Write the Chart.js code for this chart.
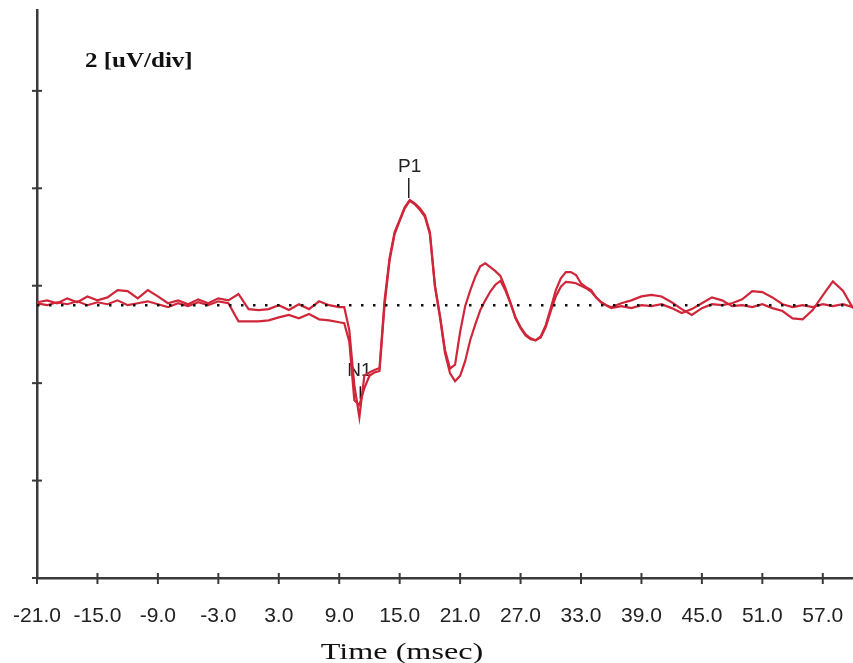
<!DOCTYPE html>
<html>
<head>
<meta charset="utf-8">
<script src="https://cdn.jsdelivr.net/npm/chart.js@4.4.1/dist/chart.umd.min.js"></script>
<style>
  html, body { margin: 0; padding: 0; background: #ffffff; }
  #wrap { width: 853px; height: 663px; position: relative; }
</style>
</head>
<body>
<div id="wrap"><canvas id="c" width="853" height="663"></canvas></div>
<script>
// ---- data (time in msec, amplitude in uV) ----
const times = [
  -21, -20, -19, -18, -17, -16, -15, -14, -13, -12, -11, -10, -9, -8, -7, -6, -5, -4, -3, -2, -1,
  0, 1, 2, 3, 4, 5, 6, 7, 8, 9,
  9.5, 10, 10.5, 11, 11.5, 12, 12.5, 13, 13.5, 14, 14.5, 15, 15.5, 16, 16.5, 17, 17.5, 18,
  18.5, 19, 19.5, 20, 20.5, 21, 21.5, 22, 22.5, 23, 23.5, 24, 24.5, 25, 25.5, 26, 26.5, 27, 27.5, 28,
  28.5, 29, 29.5, 30, 30.5, 31, 31.5, 32, 32.5, 33, 33.5, 34, 34.5, 35, 35.5,
  36, 37, 38, 39, 40, 41, 42, 43, 44, 45, 46, 47, 48, 49, 50, 51, 52, 53, 54, 55, 56, 57, 58, 59, 60
];
const traceA = [
  0.06, 0.10, 0.04, 0.14, 0.06, 0.18, 0.10, 0.16, 0.31, 0.29, 0.14, 0.31, 0.18, 0.04, 0.10, 0.02, 0.12, 0.04, 0.14, 0.10, 0.23,
  -0.08, -0.10, -0.08, 0.0, -0.10, 0.02, -0.08, 0.08, 0.0, -0.04,
  -0.04, -0.51, -1.64, -2.30, -1.44, -1.38, -1.33, -1.29, 0.10, 0.97, 1.50, 1.75, 2.01, 2.16, 2.09, 1.99, 1.85, 1.50,
  0.41, -0.21, -0.92, -1.30, -1.22, -0.55, -0.02, 0.30, 0.58, 0.80, 0.86, 0.78, 0.70, 0.60, 0.35, 0.05, -0.27, -0.47, -0.62, -0.70,
  -0.72, -0.64, -0.41, -0.06, 0.31, 0.55, 0.68, 0.68, 0.62, 0.45, 0.37, 0.31, 0.16, 0.06, 0.0,
  -0.04, 0.04, 0.10, 0.18, 0.21, 0.18, 0.06, -0.08, -0.20, -0.06, 0.02, 0.0, 0.04, 0.12, 0.29, 0.27, 0.16, 0.02, -0.04, 0.0, -0.04, 0.02, -0.02, 0.02, -0.04
];
const traceB = [
  0.04, 0.0, 0.06, 0.02, 0.08, 0.0, 0.06, 0.02, 0.10, 0.0, 0.04, 0.08, 0.02, -0.04, 0.04, -0.02, 0.06, 0.0, 0.08, 0.04, -0.33,
  -0.33, -0.33, -0.31, -0.25, -0.20, -0.27, -0.18, -0.29, -0.31, -0.35,
  -0.37, -0.75, -1.95, -2.05, -1.70, -1.45, -1.38, -1.35, 0.0, 0.92, 1.46, 1.73, 1.99, 2.14, 2.07, 1.96, 1.82, 1.46,
  0.38, -0.25, -0.98, -1.40, -1.56, -1.45, -1.15, -0.72, -0.40, -0.10, 0.10, 0.28, 0.42, 0.50, 0.30, 0.04, -0.25, -0.45, -0.60, -0.68,
  -0.72, -0.66, -0.45, -0.12, 0.18, 0.38, 0.48, 0.47, 0.45, 0.40, 0.35, 0.28, 0.16, 0.06, 0.0,
  -0.06, -0.02, -0.06, 0.0, -0.02, 0.02, -0.06, -0.16, -0.08, 0.04, 0.16, 0.10, -0.02, 0.0, -0.04, 0.02, -0.06, -0.12, -0.27, -0.29, -0.10, 0.20, 0.49, 0.30, -0.06
];
const baselineTimes = [-21, 60];
const baselineValues = [0, 0];
const xTickValues = [-21, -15, -9, -3, 3, 9, 15, 21, 27, 33, 39, 45, 51, 57];
const yTickValues = [-5.6, -3.6, -1.6, 0.4, 2.4, 4.4];
const peakLabels = ['P1', 'N1'];
const peakTimes = [16, 11];
const peakValues = [2.16, -2.30];
const scaleText = '2 [uV/div]';
const xTitle = 'Time (msec)';

// ---- helpers ----
const toPoints = (xs, ys) => xs.map((x, i) => ({ x: x, y: ys[i] }));
const RED = '#d0263a';
const AXIS = '#3a3a3a';
const SANS = "'Liberation Sans', Arial, sans-serif";

const decorPlugin = {
  id: 'decor',
  beforeDatasetsDraw(chart) {
    const ctx = chart.ctx, xs = chart.scales.x, ys = chart.scales.y;
    // N1 label (drawn under traces)
    const i = peakLabels.indexOf('N1');
    const px = xs.getPixelForValue(peakTimes[i]);
    const py = ys.getPixelForValue(peakValues[i]);
    ctx.save();
    ctx.fillStyle = '#222';
    ctx.font = '19px ' + SANS;
    ctx.textAlign = 'center';
    ctx.textBaseline = 'alphabetic';
    ctx.fillText(peakLabels[i], px, py - 41);
    ctx.strokeStyle = '#111';
    ctx.lineWidth = 1.5;
    ctx.beginPath();
    ctx.moveTo(px + 1, py - 31);
    ctx.lineTo(px + 1, py - 18);
    ctx.stroke();
    ctx.restore();
  },
  afterDraw(chart) {
    const ctx = chart.ctx, xs = chart.scales.x, ys = chart.scales.y;
    const area = chart.chartArea;
    ctx.save();
    // axis tick marks crossing the axes
    ctx.strokeStyle = AXIS;
    ctx.lineWidth = 2;
    xs.ticks.forEach(t => {
      const x = xs.getPixelForValue(t.value);
      ctx.beginPath(); ctx.moveTo(x, area.bottom - 5); ctx.lineTo(x, area.bottom + 6); ctx.stroke();
    });
    ys.ticks.forEach(t => {
      const y = ys.getPixelForValue(t.value);
      ctx.beginPath(); ctx.moveTo(area.left - 5, y); ctx.lineTo(area.left + 5, y); ctx.stroke();
    });
    // P1 label and marker
    const i = peakLabels.indexOf('P1');
    const px = xs.getPixelForValue(peakTimes[i]);
    const py = ys.getPixelForValue(peakValues[i]);
    ctx.strokeStyle = '#222';
    ctx.lineWidth = 1.5;
    ctx.beginPath(); ctx.moveTo(px - 1, py - 2); ctx.lineTo(px - 1, py - 22); ctx.stroke();
    ctx.fillStyle = '#222';
    ctx.font = '19px ' + SANS;
    ctx.textAlign = 'center';
    ctx.textBaseline = 'alphabetic';
    ctx.fillText(peakLabels[i], px, py - 28);
    // scale text (bold serif, slightly wide)
    ctx.save();
    ctx.translate(area.left + 48, 67);
    ctx.scale(1.25, 1);
    ctx.font = "bold 20px 'Liberation Serif', 'Times New Roman', serif";
    ctx.fillStyle = '#111';
    ctx.textAlign = 'left';
    ctx.fillText(scaleText, 0, 0);
    ctx.restore();
    // x axis title (serif)
    ctx.save();
    ctx.translate((area.left + area.right) / 2 - 43, 659);
    ctx.scale(1.4, 1);
    ctx.font = "23px 'Liberation Serif', 'Times New Roman', serif";
    ctx.fillStyle = '#111';
    ctx.textAlign = 'center';
    ctx.fillText(xTitle, 0, 0);
    ctx.restore();
    ctx.restore();
  }
};

new Chart(document.getElementById('c'), {
  type: 'line',
  data: {
    datasets: [
      {
        label: 'baseline',
        data: toPoints(baselineTimes, baselineValues),
        borderColor: '#111',
        borderWidth: 2.5,
        borderDash: [2.5, 9.5],
        pointRadius: 0,
        fill: false
      },
      {
        label: 'Trace B',
        data: toPoints(times, traceB),
        borderColor: RED,
        borderWidth: 2.2,
        pointRadius: 0,
        tension: 0,
        fill: false
      },
      {
        label: 'Trace A',
        data: toPoints(times, traceA),
        borderColor: RED,
        borderWidth: 2.2,
        pointRadius: 0,
        tension: 0,
        fill: false
      }
    ]
  },
  options: {
    responsive: false,
    animation: false,
    events: [],
    layout: { padding: { left: 0, right: 0, top: 10, bottom: 0 } },
    plugins: { legend: { display: false }, tooltip: { enabled: false }, title: { display: false } },
    scales: {
      x: {
        type: 'linear',
        min: -21,
        max: 60,
        afterBuildTicks: (s) => { s.ticks = xTickValues.map(v => ({ value: v })); },
        afterFit: (s) => { s.height = 85; s.paddingLeft = 0; s.paddingRight = 0; },
        ticks: {
          color: '#222',
          font: { family: SANS, size: 21 },
          padding: 26,
          maxRotation: 0,
          autoSkip: false,
          callback: (v) => Number(v).toFixed(1)
        },
        grid: { display: false, drawTicks: false },
        border: { display: true, color: AXIS, width: 2.5 }
      },
      y: {
        type: 'linear',
        min: -5.6,
        max: 6.06,
        afterBuildTicks: (s) => { s.ticks = yTickValues.map(v => ({ value: v })); },
        afterFit: (s) => { s.width = 37; s.paddingTop = 0; s.paddingBottom = 0; },
        ticks: { display: false },
        grid: { display: false, drawTicks: false },
        border: { display: true, color: AXIS, width: 2.5 }
      }
    }
  },
  plugins: [decorPlugin]
});
</script>
</body>
</html>
